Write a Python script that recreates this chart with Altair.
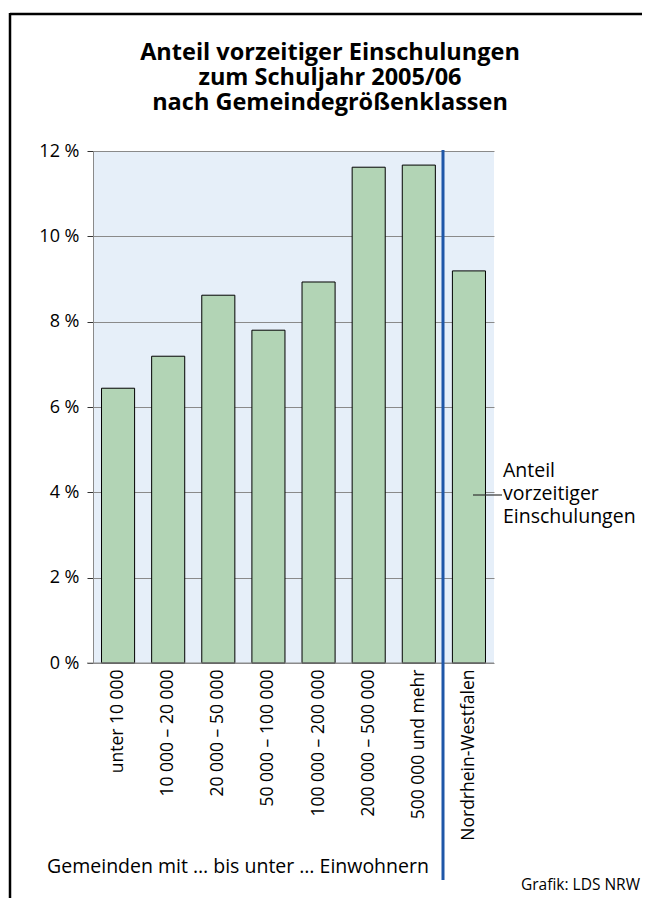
import altair as alt
import pandas as pd

categories = ["unter 10 000", "10 000 – 20 000", "20 000 – 50 000", "50 000 – 100 000",
              "100 000 – 200 000", "200 000 – 500 000", "500 000 und mehr", "Nordrhein-Westfalen"]
values = [6.44, 7.19, 8.62, 7.80, 8.93, 11.62, 11.67, 9.19]
y_ticks = [0, 2, 4, 6, 8, 10, 12]

title_lines = ["Anteil vorzeitiger Einschulungen", "zum Schuljahr 2005/06", "nach Gemeindegrößenklassen"]
annotation_lines = ["Anteil", "vorzeitiger", "Einschulungen"]
x_caption = "Gemeinden mit … bis unter … Einwohnern"
source = "Grafik: LDS NRW"

df = pd.DataFrame({"cat": categories, "val": values})

FONT = "Open Sans"
W, H = 401, 512

x_scale = alt.Scale(domain=categories, paddingInner=0.34, paddingOuter=0.17)
y_scale = alt.Scale(domain=[0, 12], nice=False)

bars = alt.Chart(df).mark_bar(fill="#b2d4b5", stroke="#000000", strokeWidth=1).encode(
    x=alt.X("cat:N", scale=x_scale, sort=categories,
            axis=alt.Axis(title=None, labelAngle=-90, labelAlign="right", labelBaseline="middle",
                          labelFont=FONT, labelFontSize=17.5, labelColor="#000000",
                          labelPadding=6, ticks=False, domain=False)),
    y=alt.Y("val:Q", scale=y_scale,
            axis=alt.Axis(title=None, values=y_ticks, labelExpr="datum.value + ' %'",
                          labelFont=FONT, labelFontSize=18, labelColor="#000000",
                          tickSize=6, tickColor="#333333", labelPadding=8,
                          grid=True, gridColor="#8a8a8a", gridWidth=1,
                          domain=True, domainColor="#8a8a8a")),
)

base_line = alt.Chart(pd.DataFrame({"v": [0]})).mark_rule(color="#8a8a8a", strokeWidth=1).encode(
    y=alt.Y("v:Q", scale=y_scale), x=alt.value(-6), x2=alt.value(W))

sep = alt.Chart(pd.DataFrame({"v": [0]})).mark_rule(color="#1f57a8", strokeWidth=3).encode(
    x=alt.value(350), y=alt.value(-1), y2=alt.value(729))

frame_top = alt.Chart(pd.DataFrame({"v": [0]})).mark_rule(color="#000000", strokeWidth=2.5).encode(
    x=alt.value(-83), x2=alt.value(560), y=alt.value(-137))
frame_left = alt.Chart(pd.DataFrame({"v": [0]})).mark_rule(color="#000000", strokeWidth=2.5).encode(
    x=alt.value(-83), y=alt.value(-138), y2=alt.value(750))

ann_line = alt.Chart(pd.DataFrame({"v": [0]})).mark_rule(color="#333333", strokeWidth=1.2).encode(
    x=alt.value(380), x2=alt.value(409), y=alt.value(344))
ann_text = alt.Chart(pd.DataFrame({"t": [annotation_lines]})).mark_text(
    font=FONT, fontSize=19.5, align="left", baseline="middle", lineHeight=23, color="#000000").encode(
    text="t:N", x=alt.value(410), y=alt.value(320))

title = alt.Chart(pd.DataFrame({"t": [title_lines]})).mark_text(
    font=FONT, fontSize=23.5, fontWeight="bold", align="center", baseline="middle",
    lineHeight=25, color="#000000").encode(
    text="t:N", x=alt.value(237), y=alt.value(-98))

caption = alt.Chart(pd.DataFrame({"t": [x_caption]})).mark_text(
    font=FONT, fontSize=19.5, align="center", baseline="middle", color="#000000").encode(
    text="t:N", x=alt.value(145), y=alt.value(716))

src = alt.Chart(pd.DataFrame({"t": [source]})).mark_text(
    font=FONT, fontSize=15.5, align="right", baseline="middle", color="#000000").encode(
    text="t:N", x=alt.value(547), y=alt.value(734))

chart = alt.layer(bars, base_line, sep, frame_top, frame_left, ann_line, ann_text, title, caption, src).properties(
    width=W, height=H,
    autosize=alt.AutoSizeParams(type="none"),
    padding={"left": 85, "top": 143, "right": 148, "bottom": 235},
    background="#ffffff",
).configure_view(fill="#e6eff9", stroke=None)

chart.save("out.html", embed_options={"renderer": "svg", "actions": False})
